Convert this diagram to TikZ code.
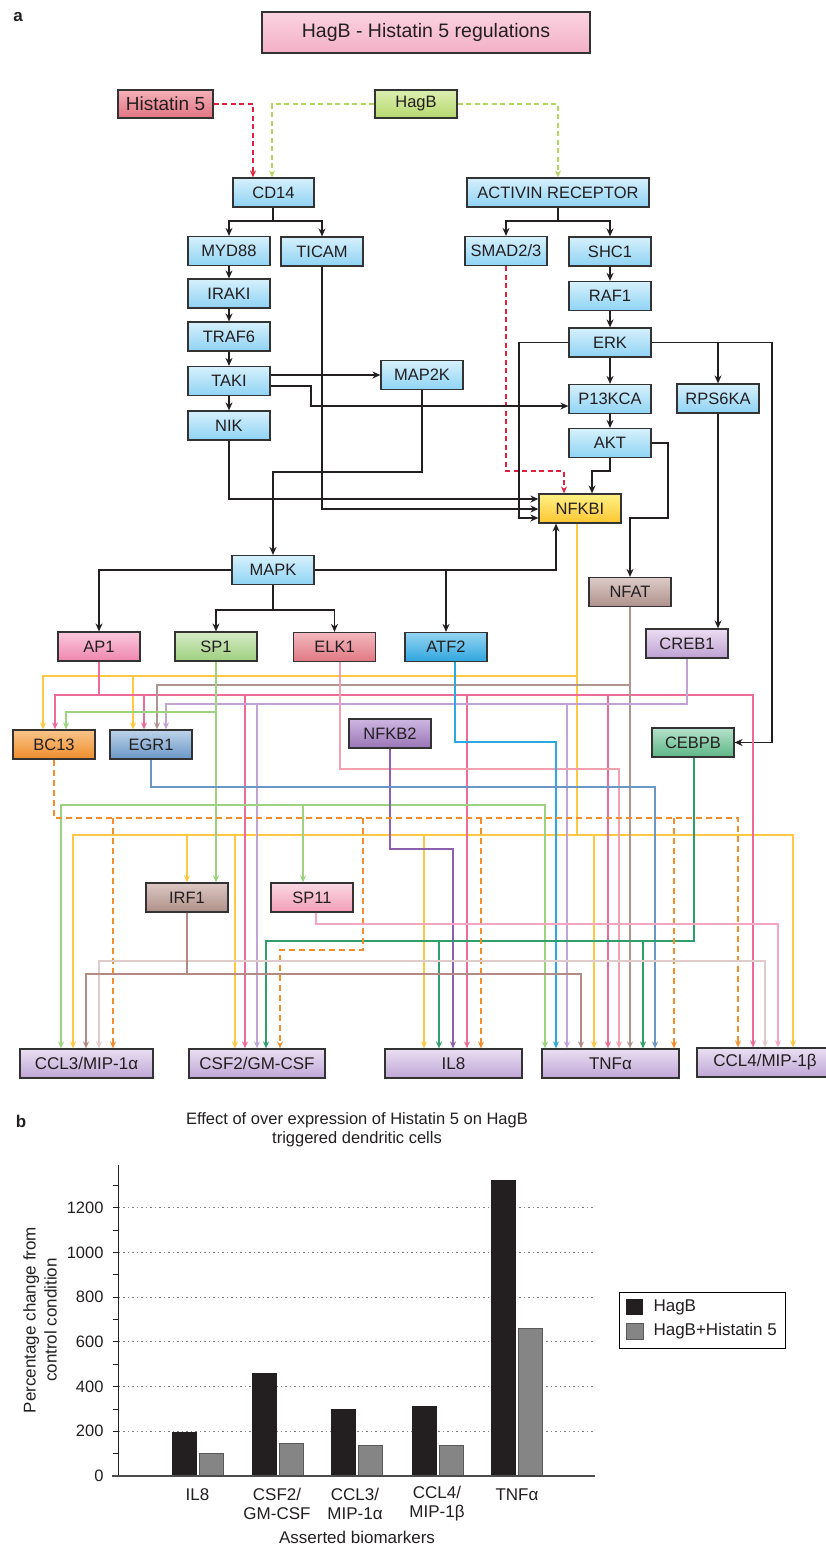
\documentclass[tikz,border=0pt]{standalone}
\usepackage{fontspec}
\setmainfont{Liberation Sans}
\usetikzlibrary{arrows.meta}
\newcommand{\fsz}[2]{\fontsize{#1}{#2}\selectfont}
\definecolor{boxline}{HTML}{333333}
\definecolor{txt}{HTML}{231F20}
\definecolor{lineblk}{HTML}{231F20}
\definecolor{blT}{HTML}{D6F0FC}
\definecolor{blB}{HTML}{8FD3F4}
\definecolor{ttlT}{HTML}{FAD3E1}
\definecolor{ttlB}{HTML}{F3AFC6}
\definecolor{hsT}{HTML}{F4B0B8}
\definecolor{hsB}{HTML}{E27482}
\definecolor{hgT}{HTML}{DCEFB0}
\definecolor{hgB}{HTML}{B6D86E}
\definecolor{nfT}{HTML}{FFF185}
\definecolor{nfB}{HTML}{FDC632}
\definecolor{apT}{HTML}{F9C8DB}
\definecolor{apB}{HTML}{EF86AE}
\definecolor{spT}{HTML}{D5EBC6}
\definecolor{spB}{HTML}{9FCF7F}
\definecolor{elT}{HTML}{F3B8BE}
\definecolor{elB}{HTML}{E07882}
\definecolor{atT}{HTML}{95D4F2}
\definecolor{atB}{HTML}{2FA6DE}
\definecolor{naT}{HTML}{DDCBC7}
\definecolor{naB}{HTML}{AE918C}
\definecolor{crT}{HTML}{EBDDF2}
\definecolor{crB}{HTML}{BEA0D2}
\definecolor{ceT}{HTML}{B5E2CB}
\definecolor{ceB}{HTML}{5DB585}
\definecolor{bcT}{HTML}{F9C48A}
\definecolor{bcB}{HTML}{EF8D2C}
\definecolor{egT}{HTML}{BDD3EA}
\definecolor{egB}{HTML}{6A97C6}
\definecolor{nbT}{HTML}{CDB6E2}
\definecolor{nbB}{HTML}{9A76B6}
\definecolor{irT}{HTML}{DDC8C3}
\definecolor{irB}{HTML}{AE8F88}
\definecolor{s11T}{HTML}{FBD9E4}
\definecolor{s11B}{HTML}{F29DB7}
\definecolor{btT}{HTML}{EADFF2}
\definecolor{btB}{HTML}{BFA6D6}
\definecolor{cyel}{HTML}{FFC843}
\definecolor{cpink}{HTML}{EE6A98}
\definecolor{cnfat}{HTML}{AE958F}
\definecolor{clav}{HTML}{C2A3D6}
\definecolor{csp1}{HTML}{9DD27E}
\definecolor{celk}{HTML}{F0A0AE}
\definecolor{catf}{HTML}{2CA9E1}
\definecolor{cnfkb}{HTML}{8C60AC}
\definecolor{cegr}{HTML}{6A97C6}
\definecolor{ccebp}{HTML}{2E9E6B}
\definecolor{corg}{HTML}{F28E2C}
\definecolor{csp11}{HTML}{F5A6BE}
\definecolor{cirf}{HTML}{B38A84}
\definecolor{clight}{HTML}{E0CBCB}
\definecolor{credd}{HTML}{E2203E}
\definecolor{cgrnd}{HTML}{B4D65E}
\definecolor{cbarA}{HTML}{231F20}
\definecolor{cbarB}{HTML}{858585}
\definecolor{cgrid}{HTML}{808080}
\begin{document}
\begin{tikzpicture}[x=1pt,y=-1pt,
  bx/.style={draw=boxline,line width=1.2pt,inner sep=0pt,text=txt,font=\fsz{16.5}{19}},
  sz/.style 2 args={minimum width=#1pt,minimum height=#2pt},
  std/.style={sz={82}{29}},
  grad/.style 2 args={top color=#1,bottom color=#2},
  blue/.style={bx,std,grad={blT}{blB}},
  btm/.style={bx,grad={btT}{btB},font=\fsz{17}{20}},
  blk/.style={draw=lineblk,line width=1.7pt,-{Stealth[length=8pt,width=7pt]}},
  cl/.style={draw=#1,line width=1.7pt,-{Stealth[length=7pt,width=6pt]}},
  cln/.style={draw=#1,line width=1.7pt},
  odash/.style={dash pattern=on 6pt off 4pt,line width=1.9pt},
  ddash/.style={dash pattern=on 5pt off 3.5pt,line width=1.7pt,-{Stealth[length=7pt,width=6pt]}},
  lbl/.style={text=txt,font=\fsz{17}{19}}
]
\useasboundingbox (0,0) rectangle (826,1548);

% ---------------- panel a ----------------
\node[text=txt,font=\fsz{17}{20}\bfseries] (la) at (18,17) {a};
\node[bx,grad={ttlT}{ttlB},sz={328}{41},font=\fsz{19.5}{23}] (title) at (426,32.5) {HagB - Histatin 5 regulations};
\node[bx,grad={hsT}{hsB},sz={95}{28},font=\fsz{19}{22}] (hist5) at (165.5,104) {Histatin 5};
\node[bx,grad={hgT}{hgB},sz={82}{28}] (hagb) at (416,104) {HagB};
\node[bx,grad={blT}{blB},sz={81}{29}] (cd14) at (273.5,192.5) {CD14};
\node[bx,grad={blT}{blB},sz={182}{29}] (activin) at (558,192.5) {ACTIVIN RECEPTOR};
\node[blue] (myd88) at (229,251) {MYD88};
\node[blue] (ticam) at (322,251.5) {TICAM};
\node[blue] (iraki) at (229,293.5) {IRAKI};
\node[blue] (traf6) at (229,336.5) {TRAF6};
\node[blue] (taki) at (229,381) {TAKI};
\node[blue] (nik) at (229,425.5) {NIK};
\node[blue] (map2k) at (422,375) {MAP2K};
\node[blue] (smad) at (506,251) {SMAD2/3};
\node[blue] (shc1) at (610,251.5) {SHC1};
\node[blue] (raf1) at (610,296) {RAF1};
\node[blue] (erk) at (610,342.5) {ERK};
\node[blue] (p13kca) at (610,399) {P13KCA};
\node[blue] (akt) at (610,443) {AKT};
\node[blue] (rps6ka) at (718,398.5) {RPS6KA};
\node[blue] (mapk) at (273,570) {MAPK};
\node[bx,std,grad={nfT}{nfB}] (nfkbi) at (580,508.5) {NFKBI};
\node[bx,std,grad={naT}{naB}] (nfat) at (630,592) {NFAT};
\node[bx,std,grad={apT}{apB}] (ap1) at (99,646.5) {AP1};
\node[bx,std,grad={spT}{spB}] (sp1) at (216,646.5) {SP1};
\node[bx,std,grad={elT}{elB}] (elk1) at (334.5,647) {ELK1};
\node[bx,std,grad={atT}{atB}] (atf2) at (446,647) {ATF2};
\node[bx,std,grad={crT}{crB}] (creb1) at (687,643.5) {CREB1};
\node[bx,std,grad={bcT}{bcB}] (bc13) at (54,744.5) {BC13};
\node[bx,std,grad={egT}{egB}] (egr1) at (151,744.5) {EGR1};
\node[bx,std,grad={nbT}{nbB}] (nfkb2) at (390,733.5) {NFKB2};
\node[bx,std,grad={ceT}{ceB}] (cebpb) at (693,742.5) {CEBPB};
\node[bx,std,grad={irT}{irB}] (irf1) at (187,897.5) {IRF1};
\node[bx,std,grad={s11T}{s11B}] (sp11) at (312,897.5) {SP11};
\node[btm,sz={133}{29}] (ccl3) at (86.5,1063.5) {CCL3/MIP-1α};
\node[btm,sz={136}{29}] (csf2) at (257,1063.5) {CSF2/GM-CSF};
\node[btm,sz={137}{29}] (il8) at (453.5,1063.5) {IL8};
\node[btm,sz={137}{29}] (tnfa) at (610.5,1063.5) {TNFα};
\node[btm,sz={136}{29}] (ccl4) at (765,1062.5) {CCL4/MIP-1β};

% dashed inputs
\draw[ddash,draw=credd] (hist5.east) -| (253,0 |- cd14.north);
\draw[ddash,draw=cgrnd] (hagb.west) -| (272,0 |- cd14.north);
\draw[ddash,draw=cgrnd] (hagb.east) -| (activin.north);
\draw[ddash,draw=credd] (smad.south) |- (564,471) -- (564,0 |- nfkbi.north);

% black connectors
\draw[blk] (cd14.south -| 273,0) -- (273,221) -| (myd88.north);
\draw[blk] (273,221) -| (ticam.north);
\draw[blk] (myd88.south) -- (iraki.north);
\draw[blk] (iraki.south) -- (traf6.north);
\draw[blk] (traf6.south) -- (taki.north);
\draw[blk] (taki.south) -- (nik.north);
\draw[blk] (taki.east |- 0,375) -- (map2k.west |- 0,375);
\draw[blk] (taki.east |- 0,386) -| (311,406) -- (p13kca.west |- 0,406);
\draw[blk] (map2k.south) |- (273,472) -- (mapk.north);
\draw[blk] (nik.south) |- (nfkbi.west |- 0,499);
\draw[blk] (ticam.south) |- (nfkbi.west |- 0,509);
\draw[blk] (erk.west) -| (519,518) -- (nfkbi.west |- 0,518);
\draw[blk] (activin.south) -- (558,221) -| (smad.north);
\draw[blk] (558,221) -| (shc1.north);
\draw[blk] (shc1.south) -- (raf1.north);
\draw[blk] (raf1.south) -- (erk.north);
\draw[blk] (erk.south) -- (p13kca.north);
\draw[blk] (p13kca.south) -- (akt.north);
\draw[blk] (erk.east) -| (rps6ka.north);
\draw[blk] (erk.east) -| (772,0 |- cebpb.east) -- (cebpb.east);
\draw[blk] (akt.south) -- (610,471) -| (592,0 |- nfkbi.north);
\draw[blk] (akt.east) -| (668,518) -| (nfat.north);
\draw[blk] (rps6ka.south) -- (rps6ka.south |- creb1.north);
\draw[blk] (mapk.west) -| (ap1.north);
\draw[blk] (mapk.south) -- (273,610) -| (sp1.north);
\draw[blk] (273,610) -| (elk1.north);
\draw[blk] (mapk.east) -| (556,0 |- nfkbi.south);
\draw[blk] (atf2.north |- mapk.east) -- (atf2.north);

% yellow (NFKBI)
\draw[cl=cyel] (nfkbi.south -| 577,0) |- (43,676) -- (43,0 |- bc13.north);
\draw[cln=cyel] (577,676) -- (577,835);
\draw[cl=cyel] (133,676) -- (133,0 |- egr1.north);
\draw[cl=cyel] (577,835) -| (73,0 |- ccl3.north);
\draw[cl=cyel] (577,835) -| (793,0 |- ccl4.north);
\foreach \xx/\nd in {187/irf1,235/csf2,424/il8,594/tnfa}
  \draw[cl=cyel] (\xx,835) -- (\xx,0 |- \nd.north);

% pink (AP1)
\draw[cln=cpink] (ap1.south) -- (99,695);
\draw[cl=cpink] (99,695) -| (55,0 |- bc13.north);
\draw[cl=cpink] (99,695) -| (753,0 |- ccl4.north);
\foreach \xx/\nd in {144/egr1,245/csf2,467/il8,608/tnfa}
  \draw[cl=cpink] (\xx,695) -- (\xx,0 |- \nd.north);

% brown (NFAT)
\draw[cl=cnfat] (nfat.south) -- (nfat.south |- tnfa.north);
\draw[cl=cnfat] (nfat.south |- 0,685) -| (157,0 |- egr1.north);

% lavender (CREB1)
\draw[cl=clav] (creb1.south) |- (166,704) -- (166,0 |- egr1.north);
\foreach \xx/\nd in {257/csf2,567/tnfa}
  \draw[cl=clav] (\xx,704) -- (\xx,0 |- \nd.north);

% green (SP1)
\draw[cl=csp1] (sp1.south) -- (sp1.south |- irf1.north);
\draw[cl=csp1] (216,712) -| (66,0 |- bc13.north);
\draw[cl=csp1] (216,805) -| (61,0 |- ccl3.north);
\draw[cl=csp1] (216,805) -| (545,0 |- tnfa.north);
\draw[cl=csp1] (303,805) -- (303,0 |- sp11.north);

% ELK1, ATF2, NFKB2, EGR1
\draw[cl=celk] (elk1.south -| 340,0) |- (619,769) -- (619,0 |- tnfa.north);
\draw[cl=catf] (atf2.south -| 455,0) |- (556,742) -- (556,0 |- tnfa.north);
\draw[cl=cnfkb] (nfkb2.south) |- (453,849) -- (453,0 |- il8.north);
\draw[cl=cegr] (egr1.south) |- (655,787) -- (655,0 |- tnfa.north);

% CEBPB
\draw[cl=ccebp] (cebpb.south -| 694,0) |- (266,941) -- (266,0 |- csf2.north);
\foreach \xx/\nd in {439/il8,643/tnfa}
  \draw[cl=ccebp] (\xx,941) -- (\xx,0 |- \nd.north);

% BC13 (dashed orange)
\draw[cl=corg,odash] (bc13.south) |- (738,818) -- (738,0 |- ccl4.north);
\foreach \xx/\nd in {113/ccl3,481/il8,674/tnfa}
  \draw[cl=corg,odash] (\xx,818) -- (\xx,0 |- \nd.north);
\draw[cl=corg,odash] (363,818) |- (280,950) -- (280,0 |- csf2.north);

% SP11
\draw[cl=csp11] (sp11.south -| 316,0) |- (778,924) -- (778,0 |- ccl4.north);

% IRF1
\draw[cl=clight] (187,961) -| (99,0 |- ccl3.north);
\draw[cl=clight] (187,961) -| (765,0 |- ccl4.north);
\draw[cl=cirf] (irf1.south) |- (86,974) -- (86,0 |- ccl3.north);
\draw[cl=cirf] (187,974) -| (581,0 |- tnfa.north);

% ---------------- panel b ----------------
\node[text=txt,font=\fsz{17}{20}\bfseries] (lb) at (21,1121) {b};
\node[lbl,align=center,font=\fsz{16.5}{19.5}] (ctitle) at (357,1129.5) {Effect of over expression of Histatin 5 on HagB\\triggered dendritic cells};
\foreach \v in {200,400,...,1200}
  \draw[cgrid,line width=1pt,dash pattern=on 1.5pt off 3pt] (118.5,{1476-0.2236*\v}) -- (595,{1476-0.2236*\v});
\foreach \v in {0,100,...,1300}
  \draw[txt,line width=0.8pt] (113,{1476-0.2236*\v}) -- (118.5,{1476-0.2236*\v});
\foreach \v in {0,200,...,1200}
  \node[lbl,anchor=east,font=\fsz{16.5}{19}] at (107,{1476-0.2236*\v}) {\v};
\draw[txt,line width=1pt] (118.5,1165) -- (118.5,1476);
% bars
\foreach \xa/\va/\vb in {172/195/100,252/460/145,331/300/135,412/315/135,491/1325/660}{
  \fill[cbarA] (\xa,1476) rectangle ({\xa+25},{1476-0.2236*\va});
  \filldraw[fill=cbarB,draw=black!65,line width=0.7pt] ({\xa+27},1476) rectangle ({\xa+51},{1476-0.2236*\vb});
}
\draw[black!70,line width=2pt] (112,1476) -- (595,1476);
\node[lbl] (cat1) at (197.5,1495) {IL8};
\node[lbl,align=center] (cat2) at (277,1504) {CSF2/\\GM-CSF};
\node[lbl,align=center] (cat3) at (355,1504) {CCL3/\\MIP-1α};
\node[lbl,align=center] (cat4) at (437,1504) {CCL4/\\MIP-1β};
\node[lbl] (cat5) at (517,1495) {TNFα};
\node[lbl] (xlab) at (357,1537) {Asserted biomarkers};
\node[lbl,rotate=90,align=center,font=\fsz{17}{21}] (ylab) at (40,1320) {Percentage change from\\control condition};
% legend
\draw[black,line width=1pt] (619,1292) rectangle (785,1348);
\fill[cbarA] (626,1299) rectangle (643,1315);
\filldraw[fill=cbarB,draw=black!65,line width=0.7pt] (626,1323) rectangle (643,1339);
\node[lbl,anchor=west] (leg1) at (650,1307) {HagB};
\node[lbl,anchor=west] (leg2) at (650,1331) {HagB+Histatin 5};
\end{tikzpicture}
\end{document}
